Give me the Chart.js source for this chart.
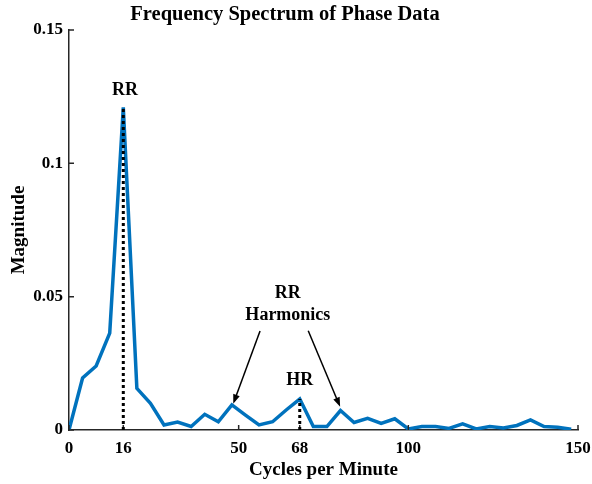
<!DOCTYPE html>
<html>
<head>
<meta charset="utf-8">
<script src="https://cdn.jsdelivr.net/npm/chart.js@4/dist/chart.umd.min.js"></script>
<style>
  html, body { margin: 0; padding: 0; background: #fff; }
  #wrap { width: 592px; height: 484px; }
</style>
</head>
<body>
<div id="wrap"><canvas id="c"></canvas></div>
<script>
// cycles per minute
const freqs = [0, 4, 8, 12, 16, 20, 24, 28, 32, 36, 40, 44, 48, 52, 56, 60, 64, 68, 72,
  76, 80, 84, 88, 92, 96, 100, 104, 108, 112, 116, 120, 124, 128, 132, 136, 140, 144, 148];
const magnitudes = [0, 0.0195, 0.024, 0.0363, 0.121, 0.0156, 0.010, 0.0019, 0.003, 0.0013,
  0.0059, 0.0031, 0.0094, 0.0056, 0.0019, 0.0031, 0.0075, 0.0116, 0.0013, 0.0013,
  0.0073, 0.0028, 0.0044, 0.0025, 0.0042, 0.0004, 0.0013, 0.0013, 0.0006, 0.0023,
  0.0004, 0.0013, 0.0008, 0.0017, 0.0038, 0.0013, 0.001, 0.0003];

const xTicks = [0, 16, 50, 68, 100, 150];
const yTicks = [0, 0.05, 0.1, 0.15];
const yTickLabels = ['0', '0.05', '0.1', '0.15'];

// dotted markers: [x, top value]
const markers = [[16, 0.121], [68, 0.0116]];
// text labels: [text, x, y]
const notes = [
  ['RR', 16.5, 0.1275],
  ['HR', 68, 0.0187],
  ['RR', 64.5, 0.0514],
  ['Harmonics', 64.5, 0.0431]
];
// arrows: [x0, y0, x1, y1]
const arrows = [
  [56.3, 0.0371, 48.4, 0.0098],
  [70.5, 0.0372, 79.9, 0.0087]
];

const SERIF = '"Liberation Serif", "Times New Roman", serif';
const AXIS = '#262626';

const extras = {
  id: 'extras',
  afterDatasetsDraw(chart) {
    const ctx = chart.ctx;
    const xs = chart.scales.x, ys = chart.scales.y;
    const a = chart.chartArea;
    ctx.save();

    // inward tick marks
    ctx.strokeStyle = AXIS;
    ctx.lineWidth = 1.5;
    ctx.beginPath();
    xTicks.forEach(v => {
      const px = xs.getPixelForValue(v);
      ctx.moveTo(px, a.bottom);
      ctx.lineTo(px, a.bottom - 5);
    });
    yTicks.forEach(v => {
      const py = ys.getPixelForValue(v);
      ctx.moveTo(a.left, py);
      ctx.lineTo(a.left + 5, py);
    });
    ctx.stroke();

    // dotted vertical markers
    ctx.strokeStyle = '#000';
    ctx.lineWidth = 3;
    ctx.setLineDash([3, 3]);
    markers.forEach(([x, y]) => {
      const px = xs.getPixelForValue(x);
      ctx.beginPath();
      ctx.moveTo(px, ys.getPixelForValue(0));
      ctx.lineTo(px, ys.getPixelForValue(y));
      ctx.stroke();
    });
    ctx.setLineDash([]);

    // arrows
    ctx.lineWidth = 1.5;
    ctx.fillStyle = '#000';
    arrows.forEach(([x0, y0, x1, y1]) => {
      const p0x = xs.getPixelForValue(x0), p0y = ys.getPixelForValue(y0);
      const p1x = xs.getPixelForValue(x1), p1y = ys.getPixelForValue(y1);
      const ang = Math.atan2(p1y - p0y, p1x - p0x);
      ctx.beginPath();
      ctx.moveTo(p0x, p0y);
      ctx.lineTo(p1x - 8 * Math.cos(ang), p1y - 8 * Math.sin(ang));
      ctx.stroke();
      ctx.beginPath();
      ctx.moveTo(p1x, p1y);
      ctx.lineTo(p1x - 10 * Math.cos(ang - 0.35), p1y - 10 * Math.sin(ang - 0.35));
      ctx.lineTo(p1x - 10 * Math.cos(ang + 0.35), p1y - 10 * Math.sin(ang + 0.35));
      ctx.closePath();
      ctx.fill();
    });

    // labels
    ctx.font = 'bold 18px ' + SERIF;
    ctx.textAlign = 'center';
    ctx.textBaseline = 'middle';
    notes.forEach(([t, x, y]) => {
      ctx.fillText(t, xs.getPixelForValue(x), ys.getPixelForValue(y));
    });

    // title
    ctx.font = 'bold 20.5px ' + SERIF;
    ctx.fillText('Frequency Spectrum of Phase Data', 285, 15);
    ctx.restore();
  }
};

const tickFont = { family: SERIF, size: 17, weight: 'bold' };
const titleFont = { family: SERIF, size: 19, weight: 'bold' };

new Chart(document.getElementById('c'), {
  type: 'line',
  data: {
    datasets: [{
      data: freqs.map((f, i) => ({ x: f, y: magnitudes[i] })),
      borderColor: '#0072BD',
      borderWidth: 3.5,
      pointRadius: 0,
      tension: 0,
      fill: false
    }]
  },
  options: {
    responsive: true,
    maintainAspectRatio: false,
    animation: false,
    layout: { padding: { top: 30, right: 14, left: 0, bottom: 0 } },
    plugins: { legend: { display: false }, tooltip: { enabled: false } },
    scales: {
      x: {
        type: 'linear',
        min: 0, max: 150,
        afterBuildTicks: s => { s.ticks = xTicks.map(v => ({ value: v })); },
        afterFit: s => { s.height = 54; s.paddingRight = 0; s.paddingLeft = 0; },
        grid: { display: false, drawTicks: false },
        border: { display: true, color: AXIS, width: 1.5 },
        ticks: { color: '#000', font: tickFont, padding: 8, maxRotation: 0, autoSkip: false },
        title: { display: true, text: 'Cycles per Minute', color: '#000', font: titleFont, padding: { top: 0, bottom: 3 } }
      },
      y: {
        type: 'linear',
        min: 0, max: 0.15,
        afterBuildTicks: s => { s.ticks = yTicks.map(v => ({ value: v })); },
        afterFit: s => { s.width = 69; s.paddingTop = 0; s.paddingBottom = 0; },
        grid: { display: false, drawTicks: false },
        border: { display: true, color: AXIS, width: 1.5 },
        ticks: {
          color: '#000', font: tickFont, padding: 6,
          callback: v => yTickLabels[yTicks.indexOf(v)]
        },
        title: { display: true, text: 'Magnitude', color: '#000', font: titleFont, padding: { top: 8, bottom: 0 } }
      }
    }
  },
  plugins: [extras]
});
</script>
</body>
</html>
